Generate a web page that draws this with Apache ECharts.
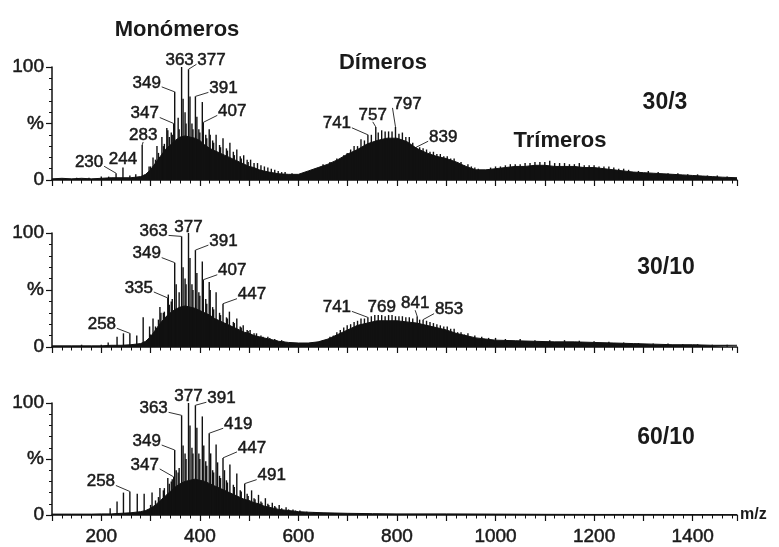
<!DOCTYPE html>
<html><head><meta charset="utf-8">
<script src="https://cdn.jsdelivr.net/npm/echarts@6/dist/echarts.min.js"></script>
<style>html,body{margin:0;padding:0;background:#fff}#c{width:779px;height:547px}</style>
</head><body><div id="c"></div>
<script>
// ---------- DATA (m/z, relative intensity %) ----------
const panelNames = ['30/3', '30/10', '60/10'];
const regionNames = ['Monómeros', 'Dímeros', 'Trímeros'];
const xTickLabels = [200, 400, 600, 800, 1000, 1200, 1400];

// continuous envelope (body of the spectrum)
const env1 = [[100,1],[120,1.5],[140,1],[160,1.5],[180,1],[200,1.5],[220,2],[240,2],[260,2],[280,3],[290,5],[300,9],[310,15],[320,21],[330,27],[340,31],[350,35],[360,38],[370,39],[380,38],[390,37],[400,35],[410,31],[420,28],[430,26],[440,24],[450,22],[460,20],[470,18],[480,16],[490,14],[500,12],[510,11],[520,9],[530,8],[540,7],[560,5.5],[580,5],[600,5],[620,8],[640,11],[660,14],[680,18],[700,23],[720,27],[740,32],[760,35],[780,37],[800,37],[820,34],[840,28],[860,24],[880,21],[900,19],[920,16],[940,12],[960,9],[980,9],[1000,10],[1020,11],[1040,12],[1060,12],[1080,13],[1100,13],[1120,12],[1140,12],[1160,12],[1180,11],[1200,11],[1220,10],[1240,9],[1260,8],[1280,7],[1300,6.5],[1320,6],[1340,5.5],[1360,5],[1380,4.5],[1400,4],[1420,3.5],[1440,3],[1460,2.5],[1490,2]];
const env2 = [[100,1],[140,1],[180,1],[200,1],[220,1.5],[240,1.5],[260,2],[280,3],[290,5],[300,9],[310,15],[320,21],[330,26],[340,30],[350,33],[360,35],[370,36],[380,35],[390,34],[400,32],[410,30],[420,28],[430,25],[440,23],[450,21],[460,19],[470,17],[480,15],[490,13],[500,12],[510,10],[520,9],[540,7],[560,5],[580,4],[600,3.5],[620,3.5],[640,4.5],[660,7],[680,11],[700,15],[720,19],[740,21],[760,23],[780,23],[800,23],[820,22],[840,21],[860,19],[880,17],[900,15],[920,12],[940,10],[960,8],[980,7],[1000,6],[1040,5.5],[1080,5],[1120,4.5],[1160,4.5],[1200,4],[1240,3.5],[1280,3],[1320,2.5],[1360,2],[1400,2],[1440,1.5],[1490,1.5]];
const env3 = [[100,0.8],[140,0.8],[180,0.8],[200,1],[220,1],[240,1.5],[260,2],[280,3],[290,4],[300,6],[310,9],[320,13],[330,17],[340,21],[350,25],[360,28],[370,30],[380,31],[390,32],[400,31],[410,30],[420,28],[430,26],[440,24],[450,22],[460,20],[470,18],[480,16],[490,14],[500,13],[510,11],[520,10],[530,8],[540,7],[550,6],[560,5],[580,4],[600,3],[620,2.5],[650,2],[700,1.5],[750,1.2],[800,1],[900,1],[1000,0.8],[1100,0.6],[1200,0.5],[1300,0.5],[1490,0.4]];

// main unlabelled peaks (sticks)
const sticks1 = [[150,2],[175,2],[200,3],[215,3],[258,4],[270,5],[297,12],[305,20],[313,30],[323,38],[333,46],[335,44],[356,55],[366,72],[380,74],[394,56],[405,69],[419,45],[421,40],[433,40],[447,37],[461,33],[475,27],[489,22],[503,18],[517,15],[531,12],[545,10],[559,8],[573,7],[587,6],[671,13],[685,18],[699,24],[713,30],[727,36],[769,44],[783,43],[811,42],[825,38],[853,28],[867,25],[881,23],[895,21],[909,19],[923,16],[937,13],[1030,14],[1060,15],[1090,16],[1110,17],[1140,15],[1170,15],[1200,13],[1230,12]];
const sticks2 = [[160,2],[200,2],[214,4],[232,9],[245,12],[272,10],[285,26],[298,18],[305,25],[319,35],[321,30],[336,46],[352,55],[366,70],[380,78],[394,65],[405,75],[419,57],[421,50],[433,48],[460,31],[475,25],[488,19],[502,15],[515,12],[528,9],[542,8],[556,6],[570,5],[671,10],[685,15],[699,19],[713,22],[727,25],[755,28],[783,28],[797,27],[811,27],[825,26],[867,22],[881,20],[895,18],[909,16],[923,13],[937,11]];
const sticks3 = [[218,6],[232,12],[245,20],[273,19],[287,19],[303,20],[319,24],[335,33],[352,40],[366,62],[380,80],[394,78],[405,88],[408,62],[422,55],[433,63],[436,47],[450,40],[461,45],[475,37],[505,22],[519,18],[533,15],[547,11],[561,9],[575,7],[589,5],[603,4],[617,3],[631,2.5]];

// minor peaks that give the dense, serrated texture
const fine1 = [[300,12],[310,18],[316,24],[326,30],[328,32],[338,38],[342,42],[344,40],[358,45],[370,60],[372,50],[384,50],[386,45],[398,45],[400,42],[412,40],[414,37],[426,35],[428,33],[440,31],[442,29],[454,28],[456,26],[468,25],[470,22],[482,21],[484,19],[496,18],[498,16],[510,15],[524,13],[538,11],[552,9],[566,7],[650,14],[657,13],[664,16],[678,19],[692,22],[706,27],[720,30],[734,35],[748,40],[762,42],[776,43],[790,43],[804,41],[818,38],[832,33],[846,29],[860,27],[874,25],[888,23],[902,21],[916,19],[930,16],[944,14],[951,12],[958,11],[965,10],[990,11],[1000,12],[1010,12],[1020,13],[1040,14],[1050,14],[1070,15],[1080,16],[1100,16],[1120,15],[1130,15],[1150,14],[1160,14],[1180,13],[1190,13],[1210,12],[1220,12],[1240,11],[1250,10],[1260,10],[1270,9],[1290,8],[1310,8],[1330,7],[1350,6],[1370,6],[1390,5],[1410,5],[1430,4],[1450,4],[1470,3]];
const fine2 = [[300,11],[310,18],[316,24],[326,30],[328,31],[338,37],[342,40],[344,42],[358,48],[370,60],[372,55],[384,55],[386,50],[398,48],[400,45],[412,42],[414,38],[426,35],[428,33],[440,30],[442,28],[454,26],[456,25],[468,22],[470,21],[482,18],[484,17],[496,15],[498,14],[510,12],[524,10],[538,9],[552,7],[566,6],[650,6],[664,9],[678,13],[692,17],[706,20],[720,23],[734,25],[748,27],[762,28],[776,27],[790,28],[804,27],[818,26],[832,25],[846,24],[860,23],[874,21],[888,19],[902,18],[916,16],[930,13],[944,12],[958,10],[972,9],[986,8],[1000,8],[1020,7],[1050,7],[1080,6],[1110,6],[1140,6],[1170,5.5],[1200,5],[1230,4.5],[1260,4],[1290,3.5],[1320,3],[1350,3],[1380,2.5],[1410,2.5],[1440,2],[1470,2]];
const fine3 = [[300,9],[310,13],[316,16],[326,22],[328,24],[338,28],[342,30],[344,32],[356,38],[358,42],[370,55],[372,50],[384,60],[386,55],[398,55],[400,50],[412,48],[414,44],[426,40],[428,38],[440,35],[442,33],[454,31],[456,29],[468,27],[470,25],[482,22],[484,21],[496,19],[498,17],[510,15],[512,14],[524,12],[526,11],[538,10],[540,9],[552,8],[554,7],[566,6],[580,5],[594,4]];

// labelled peaks [m/z, %]
const peaks1 = [[230,6],[244,11],[283,31],[347,50],[349,78],[363,100],[377,98],[391,74],[407,51],[741,40],[757,47],[797,47],[839,29]];
const peaks2 = [[258,12],[335,43],[349,74],[363,97],[377,100],[391,85],[407,59],[447,38],[741,26],[769,28],[841,27],[853,24]];
const peaks3 = [[258,21],[347,34],[349,58],[363,89],[377,100],[391,98],[419,73],[447,51],[491,28]];

// ---------- LAYOUT (pixel offsets of peak labels from peak top) ----------
const labelOffsets = [
  [[-27,-11],[0,-8],[1,-10],[-29,-10],[-28,-9],[-2,-7],[23,-9],[28,-8],[29,-11],[-31,-11],[-3,-12],[12,-23],[27,-10]],
  [[-28,-9],[-29,-10],[-28,-9],[-28,-5],[0,-6],[28,-9],[29,-9],[29,-9],[-31,-10],[0,-8],[-2,-13],[26,-10]],
  [[-29,-10],[-29,-12],[-28,-9],[-28,-7],[0,-7],[26,-7],[29,-9],[29,-10],[27,-8]]
];
const grids = [{top:67,height:113},{top:233,height:114},{top:403,height:112}];
const FONT = '"Liberation Sans", Arial, Helvetica, sans-serif';
const INK = '#111';
const TXT = '#1a1a1a';

const envs = [env1, env2, env3];
const stickSets = [sticks1, sticks2, sticks3];
const fineSets = [fine1, fine2, fine3];
const peakSets = [peaks1, peaks2, peaks3];

function stickRender(params, api) {
  const x = api.value(0), y = api.value(1);
  const p0 = api.coord([x, 0]), p1 = api.coord([x, y]);
  return {type:'line', shape:{x1:p0[0], y1:p0[1], x2:p1[0], y2:p1[1]}, style:{stroke:INK, lineWidth:1.4}};
}
function labelRenderFor(i) {
  return function (params, api) {
    const mz = api.value(0), y = api.value(1);
    const base = api.coord([mz, 0]), top = api.coord([mz, y]);
    const off = labelOffsets[i][params.dataIndex];
    const cx = top[0] + off[0], cy = top[1] + off[1];
    const w = 28;
    let sx, sy;
    if (off[0] < -8) { sx = cx + w/2 + 1; sy = cy + 4; }
    else if (off[0] > 8) { sx = cx - w/2 - 1; sy = cy + 4; }
    else { sx = cx; sy = cy + 7; }
    const children = [
      {type:'line', shape:{x1:base[0], y1:base[1], x2:top[0], y2:top[1]}, style:{stroke:INK, lineWidth:1.4}},
      {type:'text', x:cx, y:cy, style:{text:String(mz), fontSize:17, fontFamily:FONT, fill:TXT, stroke:TXT, lineWidth:0.5, align:'center', verticalAlign:'middle'}}
    ];
    if (Math.hypot(sx - top[0], sy - top[1]) > 3) {
      children.push({type:'line', shape:{x1:sx, y1:sy, x2:top[0], y2:top[1]}, style:{stroke:'#333', lineWidth:1}});
    }
    return {type:'group', children};
  };
}
function bigText(text, x, y, size) {
  return {type:'text', x:x, y:y, style:{text:text, fontSize:size, fontWeight:'bold', fontFamily:FONT, fill:TXT, align:'center', verticalAlign:'middle'}};
}

const option = {
  animation: false,
  backgroundColor: '#fff',
  grid: grids.map(g => ({left:52, width:685, top:g.top, height:g.height, containLabel:false})),
  xAxis: grids.map((g, i) => ({
    gridIndex:i, type:'value', min:100, max:1490, interval:100,
    axisLine:{onZero:false, lineStyle:{color:INK, width:1.5}},
    axisTick:{length:6, lineStyle:{color:INK, width:1.2}},
    minorTick:{show:true, splitNumber:5, length:3.5, lineStyle:{color:INK, width:1}},
    splitLine:{show:false}, minorSplitLine:{show:false},
    axisLabel:{show:i===2, margin:12, fontSize:19, fontFamily:FONT, color:TXT, textBorderColor:TXT, textBorderWidth:0.5,
      formatter: v => xTickLabels.indexOf(v) >= 0 ? String(v) : ''},
    name: i===2 ? 'm/z' : '', nameLocation:'end', nameGap:3,
    nameTextStyle:{fontSize:16, fontWeight:'bold', fontFamily:FONT, color:TXT, verticalAlign:'middle'}
  })),
  yAxis: grids.map((g, i) => ({
    gridIndex:i, type:'value', min:0, max:100, interval:50,
    axisLine:{show:true, lineStyle:{color:INK, width:1.5}},
    axisTick:{show:true, length:6, lineStyle:{color:INK, width:1.2}},
    minorTick:{show:true, splitNumber:5, length:3, lineStyle:{color:INK, width:1}},
    splitLine:{show:false}, minorSplitLine:{show:false},
    axisLabel:{margin:8, fontSize:19, fontFamily:FONT, color:TXT, textBorderColor:TXT, textBorderWidth:0.5,
      formatter: v => v === 50 ? '%' : String(v)}
  })),
  series: [],
  graphic: [
    bigText(regionNames[0], 177, 30, 22),
    bigText(regionNames[1], 383, 63, 22),
    bigText(regionNames[2], 560, 141, 22),
    bigText(panelNames[0], 665, 103, 23),
    bigText(panelNames[1], 666, 268, 23),
    bigText(panelNames[2], 666, 438, 23)
  ]
};

for (let i = 0; i < 3; i++) {
  option.series.push({type:'line', xAxisIndex:i, yAxisIndex:i, data:envs[i], symbol:'none', silent:true, z:2,
    lineStyle:{color:INK, width:1}, areaStyle:{color:INK, opacity:1}});
  option.series.push({type:'custom', xAxisIndex:i, yAxisIndex:i, data:stickSets[i].concat(fineSets[i]), encode:{x:0, y:1}, z:3, silent:true,
    renderItem:stickRender});
  option.series.push({type:'custom', xAxisIndex:i, yAxisIndex:i, data:peakSets[i], encode:{x:0, y:1}, z:4, silent:true, clip:false,
    renderItem:labelRenderFor(i)});
}

const chart = echarts.init(document.getElementById('c'), null, {renderer:'canvas'});
chart.setOption(option);
</script></body></html>
